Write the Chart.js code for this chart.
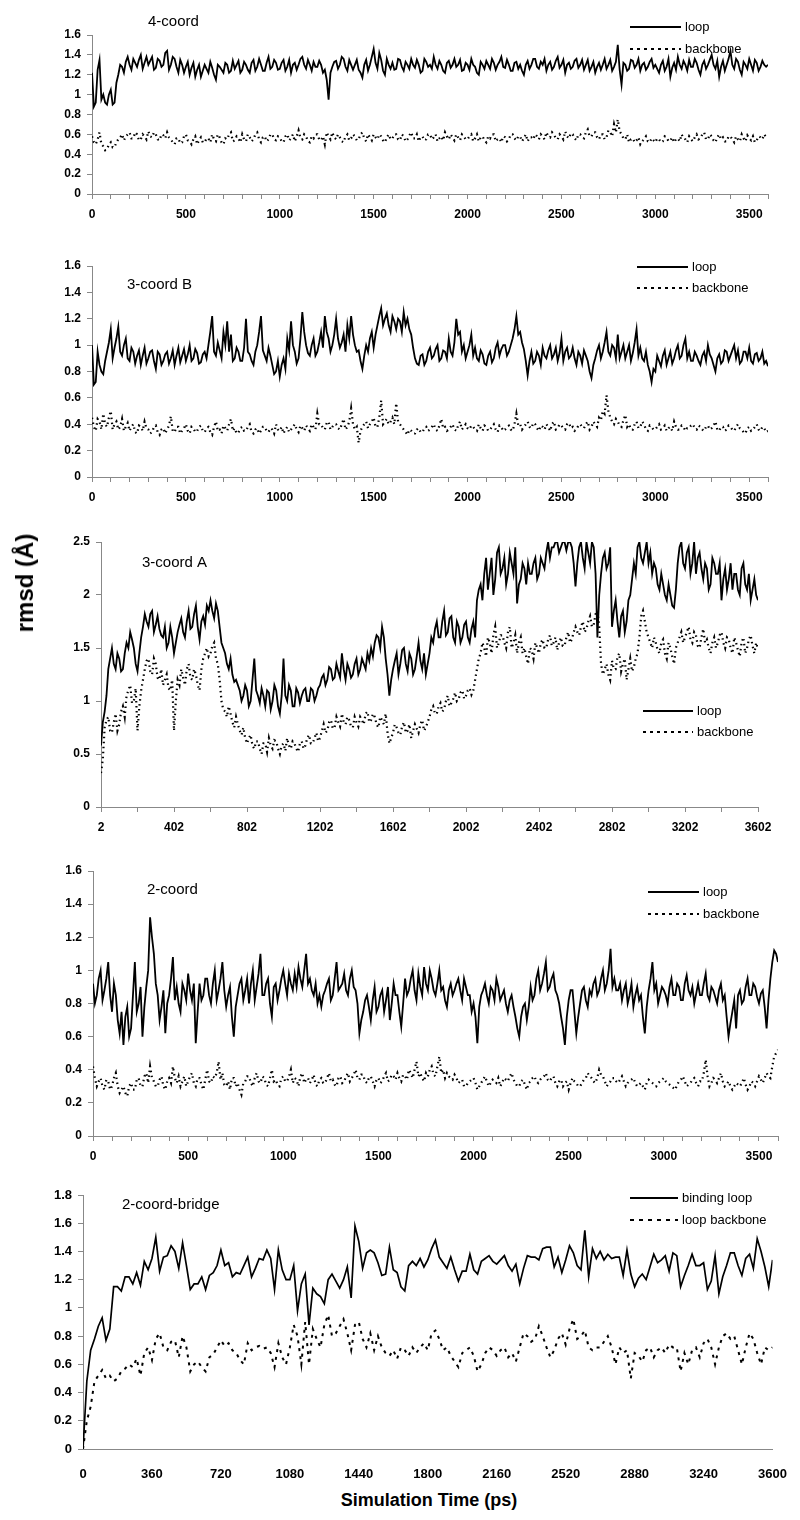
<!DOCTYPE html>
<html><head><meta charset="utf-8">
<script src="https://cdn.jsdelivr.net/npm/chart.js@4/dist/chart.umd.min.js"></script>
<style>
body{margin:0;background:#fff;width:800px;height:1520px;position:relative;overflow:hidden;font-family:'Liberation Sans',Arial,sans-serif}
.pn{position:absolute;left:0;width:800px}
#ylab{position:absolute;left:25px;top:583px;transform:translate(-50%,-50%) rotate(-90deg);font-weight:bold;font-size:24px;white-space:nowrap}
#xlab{position:absolute;left:429px;top:1500px;transform:translate(-50%,-50%);font-weight:bold;font-size:18px;white-space:nowrap}
</style></head><body>
<div class="pn" style="top:0;height:228px"><canvas id="c1"></canvas></div>
<div class="pn" style="top:228px;height:290px"><canvas id="c2"></canvas></div>
<div class="pn" style="top:518px;height:322px"><canvas id="c3"></canvas></div>
<div class="pn" style="top:840px;height:330px"><canvas id="c4"></canvas></div>
<div class="pn" style="top:1170px;height:310px"><canvas id="c5"></canvas></div>
<div id="ylab">rmsd (Å)</div>
<div id="xlab">Simulation Time (ps)</div>
<script>
// ---- categories ----
const titles = ['4-coord','3-coord B','3-coord A','2-coord','2-coord-bridge'];
const seriesNames = ['loop','backbone'];
const seriesNames5 = ['binding loop','loop backbone'];
const timeFine = []; for (let t = 0; t <= 3600; t += 10) timeFine.push(t);   // panels 1,2,4 sampling grid
const timeFineA = timeFine.map(t => t + 2);                                    // panel "3-coord A" grid
const time20 = []; for (let t = 0; t <= 3600; t += 20) time20.push(t);        // panel "2-coord-bridge" grid

// ---- tick values / labels ----
const ticks100 = []; for (let t = 0; t <= 3600; t += 100) ticks100.push(t);
const labels500 = [0,500,1000,1500,2000,2500,3000,3500];
const ticksA = [2,202,402,602,802,1002,1202,1402,1602,1802,2002,2202,2402,2602,2802,3002,3202,3402,3602];
const labelsA = [2,402,802,1202,1602,2002,2402,2802,3202,3602];
const ticks360 = [0,360,720,1080,1440,1800,2160,2520,2880,3240,3600];
const yTicks16 = [0,0.2,0.4,0.6,0.8,1,1.2,1.4,1.6];
const yTicks25 = [0,0.5,1,1.5,2,2.5];
const yTicks18 = [0,0.2,0.4,0.6,0.8,1,1.2,1.4,1.6,1.8];

// ---- series values (…Even: t = 0,20,40…;  …Odd: t = 10,30,50…) ----
const p1LoopEven = [
1.22,0.92,1.35,1.0,0.9,1.05,0.92,1.2,1.28,1.33,
1.3,1.36,1.28,1.4,1.32,1.3,1.38,1.27,1.34,1.3,
1.44,1.3,1.36,1.22,1.3,1.28,1.2,1.32,1.25,1.18,
1.3,1.22,1.27,1.15,1.28,1.22,1.3,1.24,1.26,1.34,
1.25,1.3,1.22,1.35,1.28,1.3,1.24,1.38,1.28,1.32,
1.26,1.35,1.28,1.22,1.32,1.3,1.38,1.26,1.3,1.33,
1.28,1.3,1.25,0.95,1.28,1.34,1.3,1.36,1.24,1.3,
1.3,1.25,1.17,1.35,1.3,1.46,1.26,1.35,1.2,1.3,
1.32,1.26,1.35,1.24,1.3,1.36,1.27,1.3,1.24,1.33,
1.3,1.38,1.26,1.3,1.22,1.34,1.3,1.28,1.35,1.25,
1.3,1.36,1.28,1.2,1.3,1.34,1.26,1.32,1.3,1.38,
1.27,1.3,1.24,1.33,1.3,1.2,1.34,1.3,1.36,1.26,
1.3,1.24,1.33,1.28,1.38,1.3,1.22,1.32,1.28,1.36,
1.3,1.25,1.35,1.28,1.22,1.32,1.3,1.26,1.35,1.28,
1.5,1.1,1.3,1.26,1.34,1.3,1.24,1.32,1.28,1.36,
1.3,1.22,1.34,1.28,1.18,1.32,1.38,1.26,1.3,1.35,
1.28,1.32,1.2,1.34,1.3,1.4,1.26,1.18,1.34,1.3,
1.44,1.26,1.33,1.2,1.3,1.36,1.24,1.32,1.28,1.3,
1.3];
const p1LoopOdd = [
0.88,1.25,0.95,0.92,1.0,0.9,1.12,1.3,1.22,1.38,
1.25,1.32,1.35,1.26,1.38,1.34,1.25,1.36,1.28,1.42,
1.25,1.38,1.28,1.35,1.22,1.33,1.27,1.18,1.3,1.24,
1.26,1.33,1.2,1.3,1.25,1.32,1.22,1.34,1.3,1.22,
1.33,1.25,1.32,1.24,1.36,1.24,1.32,1.26,1.35,1.25,
1.32,1.24,1.35,1.3,1.25,1.36,1.3,1.35,1.24,1.28,
1.34,1.22,1.15,1.22,1.33,1.26,1.38,1.28,1.35,1.25,
1.35,1.22,1.3,1.24,1.38,1.32,1.42,1.24,1.36,1.26,
1.25,1.36,1.28,1.33,1.26,1.3,1.35,1.22,1.36,1.28,
1.26,1.3,1.34,1.24,1.32,1.27,1.36,1.3,1.24,1.32,
1.25,1.3,1.22,1.33,1.26,1.3,1.36,1.25,1.33,1.28,
1.35,1.24,1.32,1.26,1.24,1.3,1.26,1.36,1.28,1.33,
1.36,1.3,1.25,1.34,1.27,1.35,1.3,1.26,1.34,1.27,
1.35,1.3,1.24,1.33,1.28,1.25,1.36,1.3,1.24,1.33,
1.25,1.32,1.24,1.35,1.27,1.36,1.3,1.25,1.33,1.27,
1.26,1.3,1.24,1.36,1.27,1.25,1.3,1.34,1.24,1.28,
1.36,1.25,1.3,1.26,1.35,1.3,1.34,1.28,1.24,1.36,
1.3,1.36,1.25,1.33,1.26,1.3,1.35,1.24,1.34,1.28];
const p1BackEven = [
0.58,0.5,0.62,0.48,0.45,0.52,0.47,0.55,0.6,0.58,
0.62,0.56,0.6,0.55,0.58,0.63,0.57,0.6,0.54,0.59,
0.62,0.55,0.5,0.56,0.52,0.6,0.53,0.55,0.5,0.57,
0.52,0.56,0.6,0.53,0.57,0.5,0.55,0.62,0.54,0.56,
0.6,0.53,0.57,0.55,0.62,0.52,0.58,0.55,0.6,0.54,
0.57,0.52,0.6,0.56,0.53,0.64,0.55,0.58,0.52,0.56,
0.6,0.54,0.5,0.58,0.62,0.55,0.57,0.52,0.6,0.56,
0.58,0.55,0.62,0.53,0.57,0.6,0.55,0.58,0.52,0.6,
0.56,0.6,0.54,0.58,0.55,0.62,0.56,0.53,0.58,0.55,
0.6,0.57,0.53,0.58,0.62,0.55,0.57,0.6,0.54,0.58,
0.55,0.6,0.56,0.53,0.58,0.52,0.56,0.6,0.55,0.52,
0.57,0.55,0.6,0.54,0.58,0.56,0.53,0.57,0.6,0.55,
0.58,0.62,0.57,0.6,0.55,0.58,0.63,0.56,0.6,0.54,
0.6,0.56,0.65,0.58,0.62,0.55,0.6,0.57,0.62,0.7,
0.75,0.6,0.55,0.52,0.56,0.54,0.5,0.55,0.53,0.56,
0.52,0.55,0.53,0.57,0.54,0.52,0.56,0.6,0.55,0.58,
0.53,0.6,0.56,0.62,0.55,0.58,0.52,0.6,0.57,0.53,
0.58,0.52,0.55,0.6,0.53,0.56,0.58,0.54,0.57,0.6,
0.58];
const p1BackOdd = [
0.52,0.55,0.5,0.44,0.5,0.47,0.52,0.57,0.54,0.6,
0.56,0.62,0.54,0.6,0.55,0.58,0.62,0.55,0.6,0.56,
0.57,0.52,0.56,0.51,0.58,0.54,0.5,0.58,0.54,0.52,
0.56,0.52,0.55,0.6,0.52,0.56,0.6,0.53,0.58,0.52,
0.55,0.6,0.53,0.6,0.55,0.57,0.53,0.6,0.55,0.58,
0.53,0.58,0.54,0.6,0.58,0.56,0.6,0.53,0.58,0.6,
0.55,0.58,0.62,0.55,0.57,0.6,0.53,0.58,0.54,0.6,
0.54,0.6,0.56,0.6,0.54,0.57,0.6,0.54,0.57,0.55,
0.6,0.55,0.6,0.53,0.59,0.56,0.6,0.57,0.54,0.6,
0.55,0.6,0.56,0.54,0.58,0.6,0.54,0.57,0.6,0.55,
0.58,0.53,0.6,0.57,0.54,0.58,0.6,0.53,0.56,0.58,
0.53,0.6,0.56,0.58,0.53,0.6,0.57,0.55,0.58,0.6,
0.55,0.58,0.62,0.56,0.6,0.55,0.58,0.61,0.56,0.6,
0.57,0.62,0.58,0.62,0.57,0.6,0.55,0.64,0.58,0.62,
0.63,0.56,0.6,0.55,0.52,0.57,0.53,0.58,0.52,0.54,
0.56,0.52,0.58,0.53,0.57,0.55,0.53,0.56,0.52,0.55,
0.57,0.55,0.6,0.55,0.6,0.54,0.57,0.55,0.53,0.58,
0.55,0.58,0.53,0.56,0.59,0.54,0.52,0.58,0.55,0.57];
const p2LoopEven = [
1.0,0.72,0.85,0.78,0.95,1.12,0.98,1.14,0.92,1.05,
0.88,0.95,0.92,0.85,0.98,0.9,0.96,0.82,0.93,0.88,
0.95,0.9,0.85,0.98,0.92,0.88,1.0,0.9,0.94,0.87,
0.95,1.0,1.22,0.92,0.96,1.1,1.18,1.08,0.9,0.95,
0.88,1.2,0.93,0.85,1.0,1.22,0.92,0.98,0.85,0.8,
0.76,0.9,1.05,1.18,0.95,0.9,1.25,1.0,0.92,1.05,
0.95,1.1,1.22,1.05,1.0,1.2,0.98,1.08,1.15,1.22,
1.0,0.96,0.82,1.0,1.05,0.98,1.15,1.28,1.2,1.15,
1.22,1.12,1.18,1.25,1.2,1.08,0.9,0.85,0.93,0.88,
0.98,0.92,1.0,0.9,0.95,1.05,0.92,1.2,1.1,1.0,
0.95,1.08,0.98,0.88,0.93,0.85,0.95,0.9,1.02,0.97,
1.0,0.95,1.05,1.22,1.1,0.97,0.77,0.95,0.88,0.92,
0.98,0.9,1.0,0.93,0.88,1.05,0.95,0.9,0.98,0.85,
0.92,0.96,0.88,0.75,0.9,1.0,0.95,1.1,0.92,0.98,
1.08,0.95,0.9,1.0,0.94,1.12,0.98,0.88,0.85,0.72,
0.8,0.88,0.92,0.85,0.95,0.9,1.0,0.92,1.05,0.95,
0.88,0.92,0.85,0.95,1.0,0.9,0.8,0.93,0.88,0.95,
0.92,1.0,0.96,0.88,0.95,0.98,0.86,0.94,0.9,0.86,
0.84];
const p2LoopOdd = [
0.7,0.95,0.8,0.88,1.02,0.9,1.05,0.95,1.0,0.9,
0.98,0.86,0.96,0.92,0.86,0.95,0.88,0.95,0.85,0.93,
0.86,0.96,0.92,0.87,0.97,0.93,0.88,0.97,0.86,0.93,
0.9,1.1,0.95,1.02,0.9,1.0,0.95,0.88,0.98,0.88,
0.98,0.95,0.88,0.95,1.1,0.96,0.88,0.92,0.78,0.88,
0.85,0.82,0.96,1.0,0.86,1.05,1.1,0.94,1.0,0.92,
1.02,0.98,1.1,0.95,1.08,1.05,1.02,0.95,1.05,1.08,
0.95,0.88,0.92,0.95,1.1,1.08,1.22,1.15,1.24,1.1,
1.18,1.2,1.1,1.15,1.12,0.98,0.86,0.92,0.85,0.95,
0.9,0.97,0.88,0.96,0.9,0.95,1.02,1.08,0.95,0.9,
1.0,0.92,0.9,0.96,0.86,0.92,0.87,0.98,0.92,1.0,
0.92,1.0,1.12,1.08,1.02,0.88,0.88,0.86,0.95,0.85,
0.92,0.96,0.9,0.98,0.94,0.88,0.98,0.92,0.9,0.95,
0.86,0.92,0.8,0.85,0.96,0.9,1.02,0.95,1.0,0.9,
0.9,1.0,0.95,0.88,1.02,0.92,0.9,0.95,0.8,0.82,
0.92,0.84,0.96,0.9,0.86,0.96,0.9,1.0,0.9,0.88,
0.95,0.88,0.92,0.88,0.93,0.85,0.9,0.86,0.96,0.88,
0.96,0.9,0.86,0.95,0.9,0.88,0.93,0.88,0.95,0.88];
const p2BackEven = [
0.45,0.35,0.42,0.48,0.38,0.5,0.4,0.36,0.44,0.38,
0.35,0.4,0.33,0.38,0.42,0.36,0.34,0.39,0.32,0.37,
0.36,0.46,0.34,0.38,0.35,0.4,0.33,0.37,0.35,0.39,
0.34,0.38,0.32,0.42,0.36,0.39,0.35,0.44,0.37,0.34,
0.38,0.35,0.4,0.33,0.37,0.35,0.38,0.34,0.36,0.4,
0.35,0.33,0.38,0.36,0.4,0.34,0.37,0.39,0.35,0.38,
0.48,0.4,0.36,0.42,0.38,0.4,0.36,0.44,0.38,0.52,
0.36,0.26,0.38,0.42,0.4,0.45,0.38,0.58,0.42,0.4,
0.45,0.56,0.4,0.36,0.32,0.35,0.33,0.37,0.34,0.38,
0.36,0.4,0.35,0.44,0.38,0.36,0.4,0.35,0.42,0.38,
0.37,0.39,0.36,0.4,0.35,0.38,0.36,0.4,0.34,0.38,
0.36,0.39,0.35,0.48,0.4,0.38,0.42,0.37,0.4,0.35,
0.38,0.4,0.35,0.42,0.37,0.39,0.36,0.41,0.38,0.36,
0.4,0.37,0.42,0.38,0.4,0.45,0.5,0.62,0.45,0.4,
0.42,0.38,0.47,0.4,0.36,0.42,0.38,0.4,0.35,0.38,
0.36,0.4,0.37,0.35,0.38,0.42,0.36,0.39,0.35,0.37,
0.4,0.36,0.38,0.35,0.39,0.37,0.42,0.35,0.38,0.36,
0.38,0.35,0.4,0.36,0.33,0.38,0.36,0.4,0.35,0.37,
0.35];
const p2BackOdd = [
0.38,0.44,0.36,0.4,0.45,0.36,0.42,0.38,0.35,0.41,
0.38,0.34,0.39,0.35,0.37,0.33,0.38,0.34,0.36,0.33,
0.39,0.35,0.38,0.33,0.37,0.35,0.38,0.34,0.38,0.35,
0.37,0.34,0.38,0.35,0.33,0.37,0.4,0.35,0.33,0.37,
0.35,0.38,0.34,0.36,0.33,0.38,0.35,0.37,0.33,0.36,
0.38,0.36,0.34,0.38,0.36,0.39,0.35,0.37,0.4,0.36,
0.4,0.37,0.41,0.36,0.4,0.37,0.4,0.36,0.42,0.4,
0.38,0.35,0.4,0.37,0.42,0.38,0.45,0.4,0.44,0.42,
0.4,0.42,0.38,0.34,0.36,0.33,0.36,0.34,0.37,0.35,
0.38,0.36,0.39,0.37,0.35,0.38,0.36,0.39,0.36,0.4,
0.36,0.38,0.35,0.37,0.39,0.35,0.38,0.36,0.39,0.35,
0.38,0.36,0.4,0.39,0.36,0.4,0.38,0.41,0.37,0.39,
0.36,0.38,0.4,0.36,0.4,0.37,0.4,0.37,0.35,0.39,
0.38,0.4,0.36,0.42,0.38,0.43,0.48,0.5,0.42,0.44,
0.39,0.43,0.38,0.36,0.4,0.37,0.42,0.36,0.39,0.36,
0.38,0.36,0.39,0.37,0.35,0.38,0.36,0.38,0.37,0.39,
0.37,0.39,0.36,0.38,0.36,0.39,0.36,0.38,0.35,0.39,
0.36,0.38,0.37,0.34,0.37,0.35,0.38,0.36,0.38,0.34];
const p3LoopEven = [
0.58,0.9,1.3,1.5,1.3,1.4,1.3,1.55,1.65,1.5,
1.28,1.6,1.82,1.7,1.85,1.72,1.68,1.6,1.5,1.7,
1.45,1.65,1.78,1.6,1.85,1.7,1.9,1.58,1.8,1.9,
1.95,1.78,1.85,1.55,1.45,1.3,1.25,1.2,1.1,1.05,
1.1,1.0,1.4,1.05,1.12,0.95,1.08,1.0,1.1,0.88,
1.4,1.0,1.1,0.95,1.08,1.05,1.12,1.0,1.1,1.05,
1.15,1.25,1.2,1.3,1.22,1.28,1.45,1.2,1.3,1.25,
1.4,1.3,1.35,1.45,1.5,1.55,1.6,1.7,1.4,1.05,
1.3,1.45,1.35,1.5,1.28,1.4,1.3,1.55,1.3,1.25,
1.45,1.55,1.75,1.6,1.85,1.65,1.8,1.55,1.7,1.6,
1.75,1.55,1.75,1.95,2.1,2.2,2.05,2.35,2.15,2.45,
2.25,2.1,2.4,2.2,1.92,2.15,2.25,2.3,2.2,2.35,
2.2,2.3,2.4,2.35,2.45,2.5,2.45,2.5,2.5,2.45,
2.08,2.45,2.35,2.5,2.3,2.45,1.6,2.2,2.4,2.3,
1.7,1.95,1.6,1.85,1.75,2.0,2.3,2.45,2.35,2.4,
2.3,2.2,2.25,2.05,2.1,1.95,2.0,1.88,2.3,2.5,
2.25,2.45,2.3,2.2,2.4,2.15,2.25,2.1,2.3,2.2,
1.95,2.25,2.15,2.05,2.2,2.0,2.3,2.05,1.95,2.15,
1.95];
const p3LoopOdd = [
0.8,1.05,1.4,1.35,1.45,1.28,1.45,1.5,1.58,1.35,
1.45,1.7,1.75,1.82,1.65,1.8,1.62,1.7,1.55,1.6,
1.55,1.72,1.65,1.75,1.68,1.82,1.7,1.75,1.72,1.85,
1.85,1.92,1.7,1.5,1.35,1.4,1.18,1.15,1.0,1.15,
0.95,1.2,1.1,0.98,1.05,1.1,0.92,1.15,0.95,1.05,
1.05,1.15,0.95,1.12,0.98,1.1,1.0,1.12,1.0,1.12,
1.22,1.15,1.32,1.2,1.35,1.22,1.3,1.35,1.22,1.35,
1.25,1.4,1.3,1.38,1.42,1.62,1.5,1.6,1.25,1.2,
1.38,1.25,1.48,1.35,1.45,1.25,1.42,1.38,1.45,1.35,
1.6,1.68,1.6,1.75,1.62,1.78,1.6,1.75,1.55,1.72,
1.6,1.68,1.6,2.05,1.95,2.35,2.2,2.0,2.4,2.2,
2.35,2.2,2.3,2.45,2.1,2.3,2.1,2.2,2.3,2.15,
2.35,2.25,2.5,2.45,2.5,2.4,2.5,2.42,2.5,2.3,
2.3,2.5,2.25,2.4,2.5,2.2,2.0,2.35,2.25,2.45,
1.85,1.75,1.8,1.65,1.95,2.15,2.2,2.5,2.3,2.5,
2.4,2.3,2.1,2.2,2.0,2.1,1.9,2.05,2.45,2.3,
2.4,2.2,2.5,2.35,2.25,2.3,2.05,2.35,2.2,2.3,
2.15,2.05,2.3,2.2,2.05,2.25,2.1,2.2,2.05,2.0];
const p3BackEven = [
0.32,0.75,0.85,0.7,0.88,0.78,0.95,1.05,1.15,1.0,
0.72,1.1,1.3,1.4,1.25,1.35,1.2,1.15,1.25,1.1,
0.72,1.2,1.3,1.15,1.35,1.2,1.25,1.1,1.4,1.5,
1.45,1.55,1.35,1.0,0.9,0.95,0.8,0.85,0.72,0.75,
0.6,0.68,0.55,0.62,0.5,0.6,0.65,0.55,0.62,0.5,
0.6,0.65,0.55,0.6,0.52,0.62,0.58,0.68,0.6,0.7,
0.65,0.78,0.72,0.82,0.75,0.8,0.88,0.78,0.82,0.75,
0.8,0.85,0.78,0.9,0.82,0.85,0.75,0.82,0.88,0.6,
0.7,0.75,0.68,0.8,0.72,0.65,0.78,0.7,0.82,0.75,
0.85,0.95,0.88,0.98,0.92,1.05,0.98,1.08,1.02,1.1,
1.05,1.12,1.1,1.3,1.45,1.5,1.6,1.45,1.7,1.55,
1.62,1.5,1.7,1.55,1.45,1.6,1.5,1.35,1.48,1.55,
1.45,1.58,1.5,1.62,1.55,1.48,1.6,1.52,1.65,1.58,
1.7,1.62,1.75,1.68,1.8,1.72,1.85,1.35,1.3,1.25,
1.38,1.3,1.45,1.35,1.2,1.4,1.32,1.45,1.8,1.75,
1.6,1.5,1.55,1.45,1.58,1.4,1.5,1.35,1.55,1.65,
1.6,1.7,1.55,1.62,1.5,1.68,1.58,1.45,1.6,1.55,
1.65,1.5,1.58,1.45,1.55,1.42,1.6,1.5,1.62,1.45,
1.5];
const p3BackOdd = [
0.45,0.82,0.72,0.8,0.72,0.9,0.85,1.1,0.98,1.12,
0.95,1.2,1.38,1.28,1.4,1.22,1.3,1.2,1.12,1.2,
1.0,1.15,1.22,1.3,1.22,1.3,1.15,1.3,1.45,1.42,
1.52,1.4,1.2,0.92,0.85,0.88,0.75,0.78,0.68,0.65,
0.65,0.58,0.62,0.55,0.6,0.52,0.58,0.63,0.55,0.58,
0.53,0.58,0.62,0.55,0.6,0.55,0.65,0.6,0.65,0.62,
0.72,0.7,0.8,0.74,0.85,0.76,0.8,0.85,0.76,0.85,
0.76,0.82,0.88,0.8,0.88,0.78,0.85,0.78,0.7,0.65,
0.78,0.7,0.76,0.7,0.78,0.72,0.74,0.78,0.72,0.8,
0.92,0.88,0.95,0.9,1.0,0.95,1.02,1.0,1.08,1.02,
1.1,1.06,1.2,1.4,1.55,1.42,1.55,1.62,1.5,1.62,
1.55,1.65,1.5,1.62,1.55,1.45,1.42,1.5,1.4,1.5,
1.55,1.5,1.58,1.52,1.6,1.55,1.52,1.6,1.55,1.65,
1.65,1.7,1.65,1.75,1.7,1.82,1.7,1.25,1.35,1.2,
1.3,1.42,1.28,1.4,1.3,1.28,1.4,1.6,1.85,1.65,
1.55,1.6,1.48,1.55,1.45,1.55,1.42,1.5,1.6,1.55,
1.65,1.58,1.65,1.52,1.6,1.55,1.5,1.55,1.5,1.62,
1.55,1.6,1.5,1.6,1.48,1.55,1.45,1.58,1.52,1.55];
const p4LoopEven = [
0.92,0.85,1.0,0.88,1.05,0.75,0.85,0.62,0.55,0.78,
0.65,1.05,0.8,0.6,0.9,1.32,1.1,0.85,0.78,0.62,
0.85,1.08,0.9,0.75,0.88,0.98,0.82,0.56,0.92,0.85,
0.95,0.8,1.0,0.88,1.05,0.78,0.9,0.6,0.85,0.95,
0.88,0.8,1.0,0.9,1.1,0.85,0.95,0.72,0.92,0.88,
1.0,0.85,0.92,0.98,1.02,0.9,1.1,0.95,0.85,0.8,
0.78,0.88,0.95,0.85,1.05,0.9,0.98,0.85,1.0,0.88,
0.62,0.75,0.85,0.7,0.9,0.78,0.88,0.82,0.7,0.92,
0.85,0.66,0.95,0.88,1.0,0.82,0.9,1.02,0.88,0.95,
0.85,1.0,0.9,0.78,0.92,0.88,0.95,0.82,0.9,0.85,
0.8,0.56,0.85,0.92,0.8,0.88,0.95,0.82,0.88,0.75,
0.85,0.72,0.6,0.78,0.7,0.9,0.85,1.0,0.92,1.05,
0.9,0.98,0.85,0.72,0.55,0.82,0.88,0.62,0.8,0.9,
0.78,0.85,0.95,0.88,1.0,0.92,1.13,0.95,0.88,0.82,
0.92,0.85,0.78,0.9,0.85,0.62,0.88,1.05,0.92,0.85,
0.88,0.8,0.95,0.85,0.9,0.82,0.97,0.85,0.8,0.92,
0.85,0.98,0.82,0.88,0.8,0.92,0.85,0.6,0.75,0.65,
0.88,0.82,0.95,0.85,0.9,0.8,0.88,0.65,0.95,1.12,
1.05];
const p4LoopOdd = [
0.8,0.95,0.82,0.95,0.85,0.92,0.7,0.75,0.72,0.6,
0.85,0.75,0.9,0.78,1.0,1.2,0.92,0.7,0.88,0.8,
0.95,0.82,0.8,0.92,0.82,0.88,0.92,0.75,0.82,0.95,
0.85,0.92,0.82,0.95,0.88,0.85,0.72,0.78,0.92,0.82,
0.95,0.92,0.82,0.98,0.85,0.92,0.8,0.9,0.82,0.95,
0.92,0.98,0.88,0.9,0.95,1.0,0.92,0.88,0.92,0.85,
0.85,0.92,0.82,0.95,0.88,0.92,0.88,0.95,0.9,0.8,
0.7,0.82,0.78,0.82,0.75,0.85,0.75,0.9,0.8,0.85,
0.75,0.8,0.85,0.95,0.88,0.98,0.85,0.92,1.0,0.88,
0.92,0.88,0.82,0.88,0.85,0.92,0.88,0.95,0.85,0.75,
0.72,0.78,0.88,0.85,0.9,0.82,0.9,0.85,0.8,0.82,
0.78,0.65,0.72,0.8,0.78,0.82,0.95,0.88,0.98,0.88,
0.95,0.88,0.8,0.65,0.72,0.88,0.75,0.72,0.88,0.82,
0.88,0.92,0.85,0.95,0.88,1.0,0.9,0.88,0.92,0.88,
0.8,0.92,0.85,0.82,0.72,0.78,0.95,0.88,0.8,0.9,
0.85,0.9,0.85,0.92,0.82,0.92,0.88,0.9,0.86,0.85,
0.92,0.85,0.9,0.84,0.88,0.82,0.72,0.68,0.82,0.85,
0.8,0.9,0.85,0.92,0.84,0.86,0.78,0.82,1.05,1.1];
const p4BackEven = [
0.42,0.3,0.35,0.28,0.33,0.3,0.38,0.26,0.3,0.24,
0.32,0.28,0.35,0.3,0.38,0.42,0.33,0.3,0.36,0.28,
0.35,0.42,0.32,0.3,0.36,0.33,0.38,0.3,0.35,0.28,
0.4,0.32,0.35,0.45,0.38,0.3,0.28,0.35,0.32,0.25,
0.33,0.36,0.3,0.38,0.32,0.35,0.3,0.4,0.34,0.3,
0.36,0.33,0.4,0.35,0.3,0.38,0.34,0.32,0.37,0.3,
0.35,0.32,0.38,0.34,0.3,0.36,0.33,0.38,0.35,0.4,
0.34,0.37,0.32,0.36,0.3,0.35,0.33,0.38,0.34,0.36,
0.38,0.33,0.36,0.4,0.35,0.45,0.38,0.33,0.36,0.42,
0.36,0.48,0.4,0.38,0.35,0.37,0.32,0.34,0.3,0.33,
0.35,0.28,0.32,0.36,0.3,0.34,0.32,0.3,0.35,0.33,
0.38,0.32,0.3,0.34,0.28,0.33,0.36,0.32,0.35,0.38,
0.33,0.36,0.3,0.34,0.32,0.28,0.35,0.32,0.3,0.34,
0.38,0.35,0.32,0.4,0.36,0.3,0.33,0.35,0.32,0.36,
0.3,0.33,0.35,0.3,0.32,0.28,0.34,0.32,0.3,0.33,
0.35,0.32,0.3,0.28,0.33,0.36,0.3,0.32,0.35,0.3,
0.33,0.46,0.3,0.35,0.32,0.38,0.3,0.33,0.28,0.32,
0.3,0.35,0.28,0.33,0.3,0.36,0.32,0.38,0.35,0.48,
0.52];
const p4BackOdd = [
0.35,0.33,0.3,0.34,0.28,0.35,0.3,0.28,0.26,0.3,
0.28,0.34,0.3,0.36,0.32,0.35,0.3,0.34,0.3,0.33,
0.32,0.35,0.36,0.33,0.3,0.36,0.32,0.35,0.31,0.34,
0.33,0.36,0.38,0.34,0.31,0.33,0.35,0.3,0.28,0.32,
0.36,0.32,0.35,0.33,0.36,0.31,0.35,0.33,0.31,0.35,
0.33,0.36,0.32,0.34,0.36,0.32,0.35,0.34,0.31,0.34,
0.32,0.35,0.33,0.31,0.35,0.32,0.36,0.33,0.37,0.35,
0.37,0.33,0.35,0.33,0.34,0.32,0.36,0.33,0.37,0.34,
0.35,0.37,0.34,0.38,0.4,0.36,0.35,0.38,0.4,0.37,
0.42,0.38,0.35,0.36,0.34,0.35,0.33,0.3,0.32,0.34,
0.32,0.3,0.34,0.33,0.32,0.33,0.35,0.32,0.34,0.36,
0.34,0.3,0.33,0.31,0.32,0.35,0.33,0.34,0.36,0.34,
0.35,0.32,0.33,0.3,0.33,0.32,0.33,0.3,0.32,0.35,
0.36,0.33,0.35,0.37,0.33,0.32,0.35,0.33,0.34,0.33,
0.32,0.34,0.32,0.31,0.3,0.32,0.33,0.31,0.32,0.34,
0.33,0.31,0.29,0.31,0.34,0.33,0.31,0.34,0.32,0.33,
0.38,0.36,0.32,0.34,0.35,0.33,0.31,0.3,0.3,0.31,
0.32,0.31,0.3,0.32,0.33,0.34,0.35,0.36,0.42,0.5];
const p5Loop = [
0,0.48,0.7,0.78,0.87,0.93,0.77,0.85,1.15,1.15,
1.12,1.22,1.22,1.17,1.25,1.16,1.33,1.27,1.35,1.5,
1.26,1.36,1.37,1.44,1.4,1.28,1.46,1.3,1.13,1.17,
1.17,1.22,1.13,1.23,1.25,1.3,1.41,1.3,1.32,1.22,
1.25,1.24,1.3,1.36,1.22,1.28,1.35,1.34,1.41,1.35,
1.13,1.41,1.27,1.2,1.2,1.3,0.98,1.17,1.24,0.88,
1.14,1.1,1.08,1.03,1.2,1.24,1.19,1.14,1.2,1.29,
1.07,1.58,1.47,1.28,1.39,1.41,1.39,1.32,1.23,1.24,
1.43,1.27,1.25,1.15,1.12,1.3,1.33,1.3,1.35,1.29,
1.34,1.42,1.48,1.36,1.32,1.28,1.36,1.27,1.19,1.26,
1.26,1.38,1.27,1.24,1.33,1.35,1.37,1.33,1.31,1.34,
1.37,1.3,1.26,1.31,1.17,1.28,1.37,1.36,1.36,1.34,
1.42,1.43,1.43,1.29,1.36,1.25,1.34,1.44,1.39,1.3,
1.27,1.55,1.22,1.42,1.35,1.4,1.34,1.38,1.35,1.36,
1.36,1.23,1.41,1.24,1.15,1.21,1.24,1.2,1.29,1.38,
1.32,1.34,1.37,1.26,1.39,1.37,1.15,1.23,1.3,1.38,
1.3,1.3,1.32,1.13,1.19,1.37,1.1,1.22,1.3,1.39,
1.39,1.3,1.23,1.35,1.38,1.28,1.49,1.4,1.29,1.15,
1.34];
const p5Back = [
0,0.2,0.3,0.48,0.52,0.56,0.5,0.52,0.48,0.5,
0.55,0.57,0.6,0.58,0.64,0.52,0.68,0.72,0.63,0.78,
0.82,0.72,0.7,0.76,0.77,0.65,0.8,0.72,0.55,0.6,
0.62,0.58,0.55,0.65,0.67,0.72,0.77,0.73,0.75,0.7,
0.68,0.63,0.6,0.75,0.7,0.72,0.73,0.71,0.72,0.68,
0.58,0.75,0.65,0.6,0.72,0.88,0.8,0.6,0.9,0.6,
0.85,0.78,0.72,0.88,0.95,0.8,0.82,0.87,0.92,0.82,
0.7,0.88,0.9,0.78,0.72,0.82,0.7,0.8,0.72,0.68,
0.66,0.7,0.64,0.72,0.7,0.66,0.72,0.68,0.72,0.75,
0.7,0.82,0.84,0.78,0.7,0.72,0.66,0.62,0.58,0.68,
0.7,0.72,0.66,0.55,0.6,0.68,0.72,0.7,0.66,0.7,
0.72,0.65,0.68,0.62,0.72,0.82,0.8,0.76,0.78,0.87,
0.8,0.72,0.65,0.7,0.78,0.82,0.74,0.85,0.92,0.78,
0.8,0.84,0.72,0.7,0.72,0.72,0.76,0.8,0.72,0.6,
0.72,0.68,0.7,0.5,0.68,0.66,0.62,0.7,0.72,0.65,
0.7,0.72,0.68,0.74,0.72,0.72,0.55,0.68,0.6,0.7,
0.72,0.65,0.75,0.78,0.72,0.6,0.72,0.8,0.82,0.78,
0.8,0.7,0.6,0.72,0.82,0.78,0.68,0.6,0.72,0.7,
0.72];

// interleave the two half-grids into the full 10 ps sampling table
function interleave(even, odd) {
  const out = [];
  even.forEach((v, i) => { out.push(v); if (i < odd.length) out.push(odd[i]); });
  return out;
}

const FONT = "'Liberation Sans', Arial, sans-serif";

function makeChart(id, c) {
  const mk = (arr) => c.x.map((t, i) => ({x: t, y: arr[i]}));
  const datasets = [
    {label: c.names[0], data: mk(c.loop), borderColor: '#000', borderWidth: c.lw, pointRadius: 0, tension: 0, fill: false},
    {label: c.names[1], data: mk(c.back), borderColor: '#000', borderWidth: c.dw, borderDash: c.dash, pointRadius: 0, tension: 0, fill: false}
  ];
  const deco = {
    id: 'deco',
    afterDraw(chart) {
      const g = chart.ctx;
      g.save();
      g.fillStyle = '#000';
      g.textBaseline = 'middle';
      g.font = '15px ' + FONT;
      g.fillText(c.title, c.titleX, c.titleY);
      chart.data.datasets.forEach((d, i) => {
        const y = c.legY + i * c.legGap;
        g.beginPath();
        g.strokeStyle = '#000';
        g.lineWidth = 2;
        g.setLineDash(i ? c.legDash : []);
        g.moveTo(c.legX, y); g.lineTo(c.legX + c.legLen, y);
        g.stroke();
        g.setLineDash([]);
        g.font = '13px ' + FONT;
        g.fillText(d.label, c.legX + c.legLen + 4, y);
      });
      g.restore();
    }
  };
  return new Chart(document.getElementById(id), {
    type: 'line',
    data: {datasets},
    plugins: [deco],
    options: {
      responsive: true, maintainAspectRatio: false, animation: false,
      layout: {padding: {left: 0, top: c.top, right: 800 - c.right, bottom: 0}},
      plugins: {legend: {display: false}, tooltip: {enabled: false}, title: {display: false}},
      scales: {
        x: {
          type: 'linear', min: c.xmin, max: c.xmax,
          afterBuildTicks: s => { s.ticks = c.xTicks.map(v => ({value: v})); },
          afterFit: s => { s.height = c.xh; },
          ticks: {autoSkip: false, maxRotation: 0, minRotation: 0, padding: c.xpad, color: '#000',
                  font: {family: FONT, size: c.fs, weight: 'bold'},
                  callback: v => c.xLabels.includes(v) ? String(v) : ''},
          grid: {display: c.xMarks, drawOnChartArea: false, drawTicks: true, tickLength: 5, color: '#888'},
          border: {display: true, color: '#888', width: 1}
        },
        y: {
          min: 0, max: c.ymax,
          afterBuildTicks: s => { s.ticks = c.yTicks.map(v => ({value: v})); },
          afterFit: s => { s.width = c.yw; },
          ticks: {padding: 6, color: '#000', font: {family: FONT, size: c.fs, weight: 'bold'},
                  callback: v => String(Math.round(v * 10) / 10)},
          grid: {display: true, drawOnChartArea: false, drawTicks: true, tickLength: 5, color: '#888'},
          border: {display: true, color: '#888', width: 1}
        }
      }
    }
  });
}

const DENSE = {lw: 1.8, dw: 2.2, dash: [1.5, 3.5], legDash: [3, 4], xMarks: true, xpad: 8, fs: 12};

makeChart('c1', Object.assign({}, DENSE, {x: timeFine, loop: interleave(p1LoopEven, p1LoopOdd), back: interleave(p1BackEven, p1BackOdd),
  names: seriesNames, title: titles[0], xmin: 0, xmax: 3600, xTicks: ticks100, xLabels: labels500,
  ymax: 1.6, yTicks: yTicks16, top: 35, right: 768, xh: 34, yw: 92,
  titleX: 148, titleY: 22, legX: 630, legY: 27, legLen: 51, legGap: 22}));
makeChart('c2', Object.assign({}, DENSE, {x: timeFine, loop: interleave(p2LoopEven, p2LoopOdd), back: interleave(p2BackEven, p2BackOdd),
  names: seriesNames, title: titles[1], xmin: 0, xmax: 3600, xTicks: ticks100, xLabels: labels500,
  ymax: 1.6, yTicks: yTicks16, top: 38, right: 768, xh: 41, yw: 92,
  titleX: 127, titleY: 57, legX: 637, legY: 39, legLen: 51, legGap: 21}));
makeChart('c3', Object.assign({}, DENSE, {x: timeFineA, loop: interleave(p3LoopEven, p3LoopOdd), back: interleave(p3BackEven, p3BackOdd),
  names: seriesNames, title: titles[2], xmin: 2, xmax: 3602, xTicks: ticksA, xLabels: labelsA,
  ymax: 2.5, yTicks: yTicks25, top: 24, right: 758, xh: 33, yw: 101,
  titleX: 142, titleY: 45, legX: 643, legY: 193, legLen: 50, legGap: 21}));
makeChart('c4', Object.assign({}, DENSE, {x: timeFine, loop: interleave(p4LoopEven, p4LoopOdd), back: interleave(p4BackEven, p4BackOdd),
  names: seriesNames, title: titles[3], xmin: 0, xmax: 3600, xTicks: ticks100, xLabels: labels500,
  ymax: 1.6, yTicks: yTicks16, top: 31, right: 778, xh: 34, yw: 93,
  titleX: 147, titleY: 50, legX: 648, legY: 52, legLen: 51, legGap: 22}));
makeChart('c5', {x: time20, loop: p5Loop, back: p5Back, names: seriesNames5, title: titles[4],
  lw: 1.7, dw: 2, dash: [3, 5], legDash: [4, 5], xMarks: false, xpad: 13, fs: 13,
  xmin: 0, xmax: 3600, xTicks: ticks360, xLabels: ticks360,
  ymax: 1.8, yTicks: yTicks18, top: 25, right: 777, xh: 31, yw: 83,
  titleX: 122, titleY: 35, legX: 630, legY: 28, legLen: 48, legGap: 22});
</script>
</body></html>
